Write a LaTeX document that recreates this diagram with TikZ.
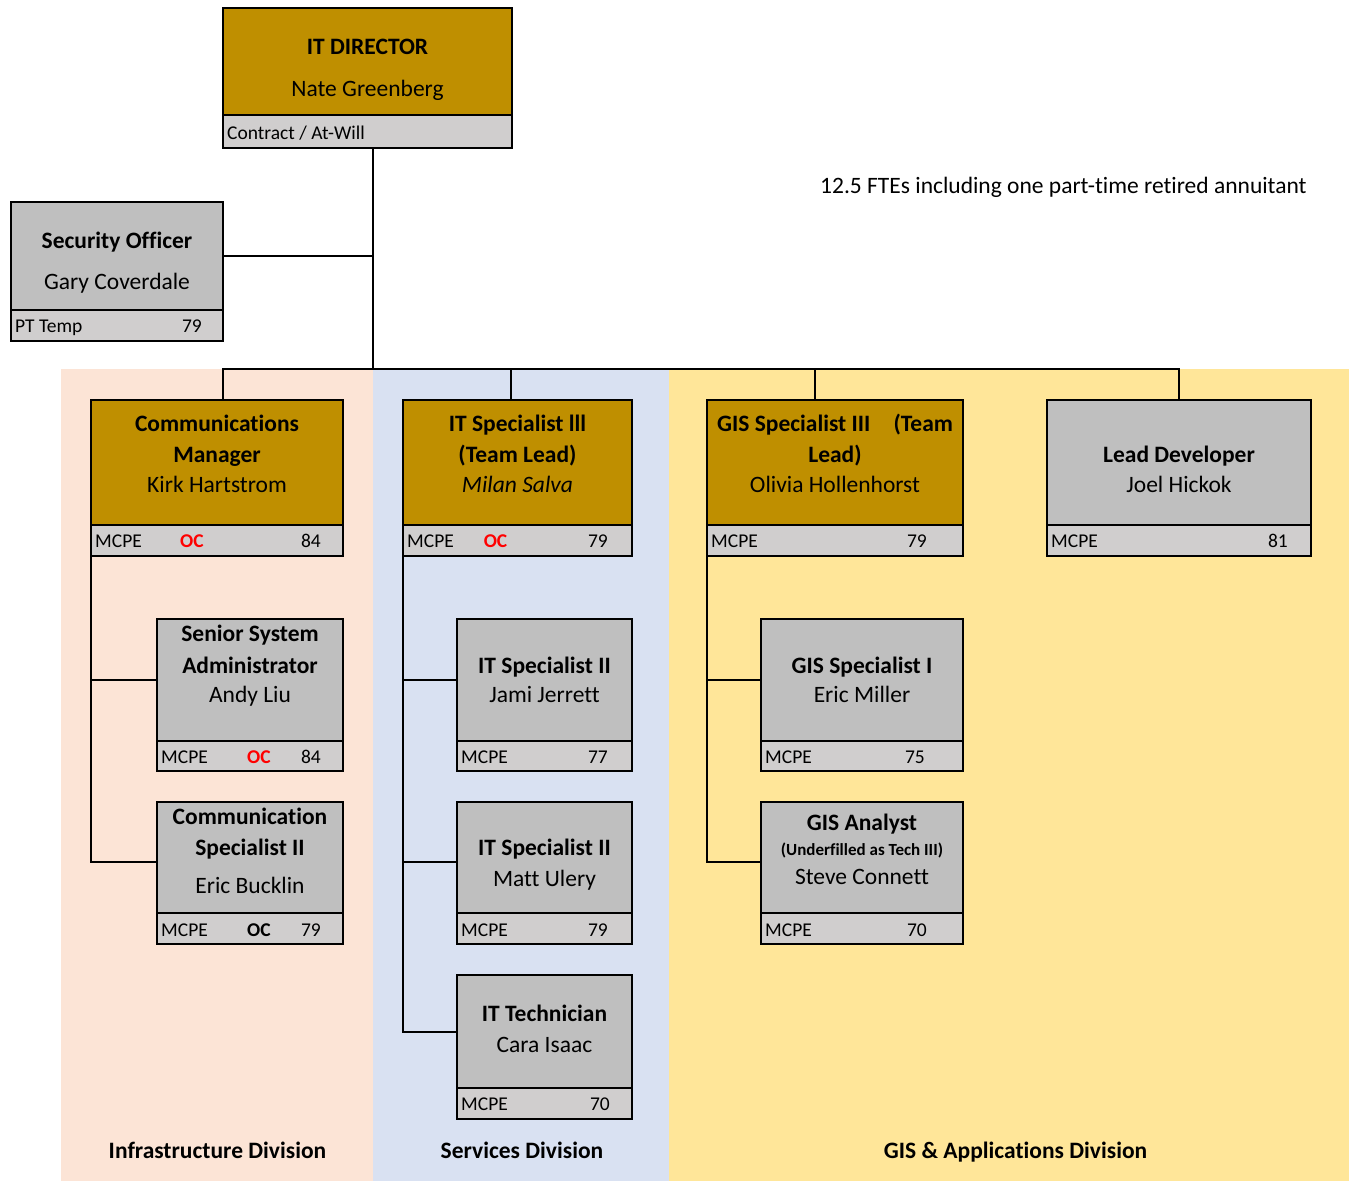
\documentclass[tikz,border=0pt]{standalone}
\usepackage{fontspec}
\setmainfont{Carlito}[RawFeature={-liga;-clig;-calt;-dlig}]
\usepackage{xcolor}
\usepackage{tikz}
\usetikzlibrary{positioning}
\definecolor{leadgold}{HTML}{BF8F00}
\definecolor{staffgray}{HTML}{BFBFBF}
\definecolor{footgray}{HTML}{D0CECE}
\definecolor{infrapeach}{HTML}{FCE4D6}
\definecolor{serviceblue}{HTML}{D9E1F2}
\definecolor{gisyellow}{HTML}{FFE699}
\newcommand{\blinewidth}{2pt}
\newcommand{\bigsize}{\fontsize{23.5}{28}\selectfont}
\newcommand{\footsize}{\fontsize{19.5}{23}\selectfont}
\newcommand{\notesize}{\fontsize{17}{20}\selectfont}
% name, style, left, top, width, height, footer height
\newcommand{\orgbox}[7]{%
	\node[#2, minimum width=#5pt, minimum height=#6pt] (#1) at (#3,#4) {};
	\node[footbox, minimum width=#5pt, minimum height=#7pt] (#1foot) at (#1.south west) {};
}
\tikzset{
	orgnode/.style={draw, line width=\blinewidth, inner sep=0pt, outer sep=0pt, anchor=north west},
	leadbox/.style={orgnode, fill=leadgold},
	staffbox/.style={orgnode, fill=staffgray},
	footbox/.style={orgnode, fill=footgray},
	jobtitle/.style={font=\bigsize\bfseries, anchor=base, inner sep=0pt},
	jobholder/.style={font=\bigsize, anchor=base, inner sep=0pt},
	unionname/.style={font=\footsize, anchor=base west, inner sep=0pt},
	unionrange/.style={font=\footsize, anchor=base east, inner sep=0pt},
	ocflag/.style={font=\footsize\bfseries, anchor=base, inner sep=0pt},
	division/.style={font=\bigsize\bfseries, anchor=base, inner sep=0pt},
	connector/.style={line width=\blinewidth, line cap=rect}
}

\begin{document}
\begin{tikzpicture}[x=1pt, y=-1pt]
	\useasboundingbox[fill=white] (0,0) rectangle (1349,1181);

	\fill[infrapeach]		(61,369)	rectangle (373,1181);
	\fill[serviceblue]	(373,369)	rectangle (669,1181);
	\fill[gisyellow]		(669,369)	rectangle (1349,1181);

	\orgbox{dir}{leadbox}{223}{8}{289}{107}{33}
	\orgbox{sec}{staffbox}{11}{202}{212}{108}{31}
	\orgbox{comm}{leadbox}{91}{400}{252}{125}{31}
	\orgbox{itlead}{leadbox}{403}{400}{229}{125}{31}
	\orgbox{gislead}{leadbox}{707}{400}{256}{125}{31}
	\orgbox{lead}{staffbox}{1047}{400}{264}{125}{31}
	\orgbox{ssa}{staffbox}{157}{619}{186}{122}{30}
	\orgbox{csp}{staffbox}{157}{802}{186}{111}{31}
	\orgbox{itjami}{staffbox}{457}{619}{175}{122}{30}
	\orgbox{itmatt}{staffbox}{457}{802}{175}{111}{31}
	\orgbox{ittech}{staffbox}{457}{975}{175}{113}{31}
	\orgbox{gisone}{staffbox}{761}{619}{202}{122}{30}
	\orgbox{gisan}{staffbox}{761}{802}{202}{111}{31}

	\coordinate (trunk)		at (373,369);
	\coordinate (busleft)		at (223,369);
	\coordinate (busright)	at (1179,369);
	\coordinate (itdrop)		at (511,369);
	\coordinate (gisdrop)		at (815,369);

	\draw[connector] (dirfoot.south -| trunk) -- (trunk);
	\draw[connector] (sec.east) -- (sec.east -| trunk);
	\draw[connector] (busleft) -- (busright);
	\draw[connector] (busleft) -- (busleft |- comm.north);
	\draw[connector] (itdrop) -- (itdrop |- itlead.north);
	\draw[connector] (gisdrop) -- (gisdrop |- gislead.north);
	\draw[connector] (busright) -- (lead.north);
	\draw[connector] (commfoot.south west) |- (ssa.west);
	\draw[connector] (commfoot.south west) |- ([yshift=-4pt]csp.west);
	\draw[connector] (itleadfoot.south west) |- (itjami.west);
	\draw[connector] (itleadfoot.south west) |- ([yshift=-4pt]itmatt.west);
	\draw[connector] (itleadfoot.south west) |- (ittech.west);
	\draw[connector] (gisleadfoot.south west) |- (gisone.west);
	\draw[connector] (gisleadfoot.south west) |- ([yshift=-4pt]gisan.west);

	\node[jobtitle]		(dirtitle)	at (367.5,54)	{IT DIRECTOR};
	\node[jobholder]	(dirname)	at (367.5,96)	{Nate Greenberg};
	\node[unionname]	(dirterms)	at (227,139)	{Contract / At-Will};

	\node[jobtitle]		(sectitle)	at (117,248)	{Security Officer};
	\node[jobholder]	(secname)	at (117,289)	{Gary Coverdale};
	\node[unionname]	(secunion)	at (15,332)		{PT Temp};
	\node[unionrange]	(secrange)	at (202,332)	{79};

	\node[jobtitle]		(commtitle)		at (217,431)	{Communications};
	\node[jobtitle]		(commtitleb)	at (217,462)	{Manager};
	\node[jobholder]	(commname)		at (217,492)	{Kirk Hartstrom};
	\node[unionname]	(communion)		at (95,547)		{MCPE};
	\node[ocflag, red]	(commoc)		at (192,547)	{OC};
	\node[unionrange]	(commrange)		at (321,547)	{84};

	\node[jobtitle]		(itleadtitle)	at (517.5,431)	{IT Specialist lll};
	\node[jobtitle]		(itleadtitleb)	at (517.5,462)	{(Team Lead)};
	\node[jobholder]	(itleadname)	at (517.5,492)	{\itshape Milan Salva};
	\node[unionname]	(itleadunion)	at (407,547)	{MCPE};
	\node[ocflag, red]	(itleadoc)		at (495.5,547)	{OC};
	\node[unionrange]	(itleadrange)	at (608,547)	{79};

	\node[jobtitle]		(gisleadtitle)	at (835,431)	{GIS Specialist III\hspace{23pt}(Team};
	\node[jobtitle]		(gisleadtitleb)	at (835,462)	{Lead)};
	\node[jobholder]	(gisleadname)	at (835,492)	{Olivia Hollenhorst};
	\node[unionname]	(gisleadunion)	at (711,547)	{MCPE};
	\node[unionrange]	(gisleadrange)	at (927,547)	{79};

	\node[jobtitle]		(leadtitle)		at (1179,462)	{Lead Developer};
	\node[jobholder]	(leadname)		at (1179,492)	{Joel Hickok};
	\node[unionname]	(leadunion)		at (1051,547)	{MCPE};
	\node[unionrange]	(leadrange)		at (1288,547)	{81};

	\node[jobtitle]		(ssatitle)		at (250,641)	{Senior System};
	\node[jobtitle]		(ssatitleb)		at (250,673)	{Administrator};
	\node[jobholder]	(ssaname)		at (250,702)	{Andy Liu};
	\node[unionname]	(ssaunion)		at (161,763)	{MCPE};
	\node[ocflag, red]	(ssaoc)			at (259,763)	{OC};
	\node[unionrange]	(ssarange)		at (321,763)	{84};

	\node[jobtitle]		(csptitle)		at (250,824)	{Communication};
	\node[jobtitle]		(csptitleb)		at (250,855)	{Specialist II};
	\node[jobholder]	(cspname)		at (250,893)	{Eric Bucklin};
	\node[unionname]	(cspunion)		at (161,936)	{MCPE};
	\node[ocflag]		(cspoc)			at (259,936)	{OC};
	\node[unionrange]	(csprange)		at (321,936)	{79};

	\node[jobtitle]		(itjamititle)	at (544.5,673)	{IT Specialist II};
	\node[jobholder]	(itjaminame)	at (544.5,702)	{Jami Jerrett};
	\node[unionname]	(itjamiunion)	at (461,763)	{MCPE};
	\node[unionrange]	(itjamirange)	at (608,763)	{77};

	\node[jobtitle]		(itmatttitle)	at (544.5,855)	{IT Specialist II};
	\node[jobholder]	(itmattname)	at (544.5,886)	{Matt Ulery};
	\node[unionname]	(itmattunion)	at (461,936)	{MCPE};
	\node[unionrange]	(itmattrange)	at (608,936)	{79};

	\node[jobtitle]		(ittechtitle)	at (544.5,1021)	{IT Technician};
	\node[jobholder]	(ittechname)	at (544.5,1052)	{Cara Isaac};
	\node[unionname]	(ittechunion)	at (461,1110)	{MCPE};
	\node[unionrange]	(ittechrange)	at (610,1110)	{70};

	\node[jobtitle]		(gisonetitle)	at (862,673)	{GIS Specialist I};
	\node[jobholder]	(gisonename)	at (862,702)	{Eric Miller};
	\node[unionname]	(gisoneunion)	at (765,763)	{MCPE};
	\node[unionrange]	(gisonerange)	at (925,763)	{75};

	\node[jobtitle]		(gisantitle)	at (862,830)	{GIS Analyst};
	\node[jobtitle, font=\notesize\bfseries]	(gisannote)	at (862,855)	{(Underfilled as Tech III)};
	\node[jobholder]	(gisanname)		at (862,884)	{Steve Connett};
	\node[unionname]	(gisanunion)	at (765,936)	{MCPE};
	\node[unionrange]	(gisanrange)	at (927,936)	{70};

	\node[division]	(infradiv)		at (217.5,1158)	{Infrastructure Division};
	\node[division]	(servicediv)	at (522,1158)	{Services Division};
	\node[division]	(gisdiv)		at (1015.5,1158)	{GIS \& Applications Division};

	\node[jobholder, anchor=base west]	(ftenote)	at (820,193)	{12.5 FTEs including one part-time retired annuitant};
\end{tikzpicture}
\end{document}
